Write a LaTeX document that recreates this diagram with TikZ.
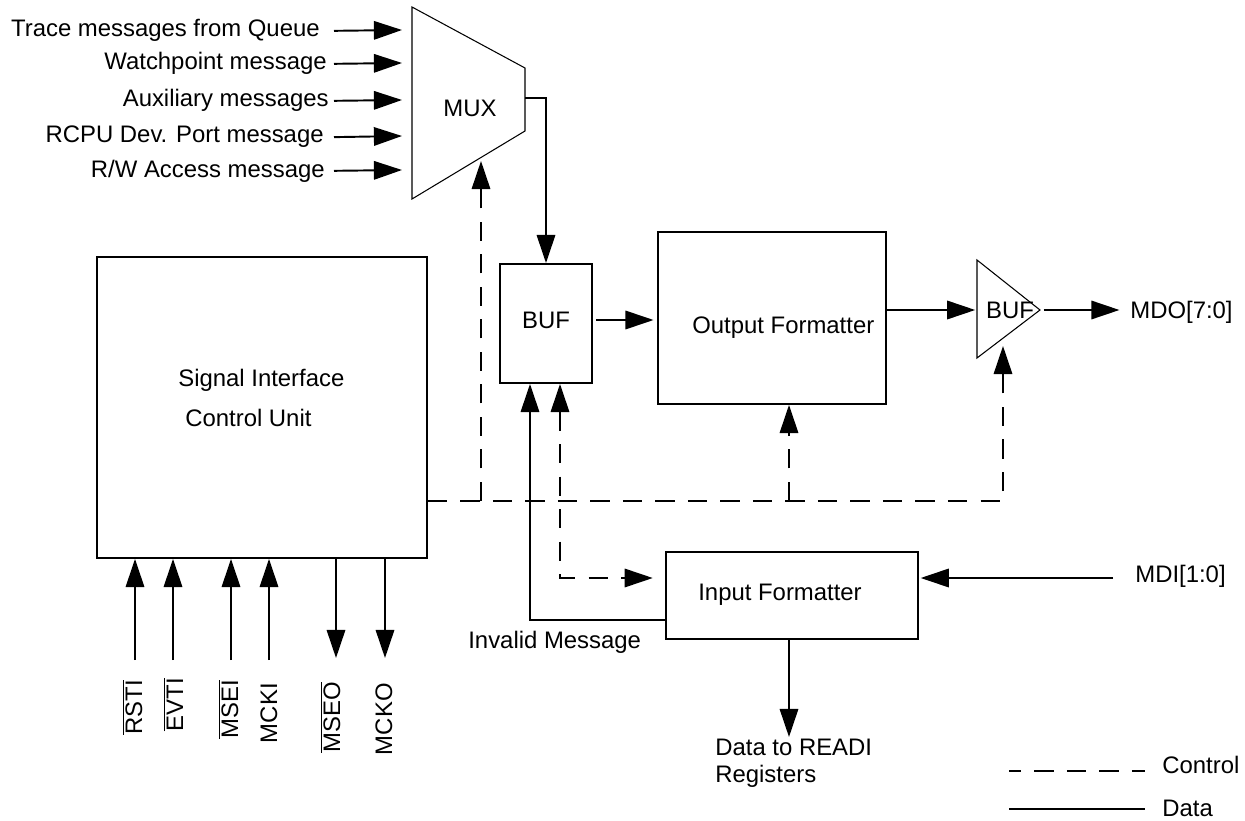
\documentclass[tikz,border=0pt]{standalone}
\usepackage{fontspec}
\setmainfont{Liberation Sans}
\usetikzlibrary{arrows.meta,positioning,calc}

\tikzset{
  box/.style={draw, line width=1.1pt, inner sep=0pt},
  lbl/.style={inner sep=0pt},
  dat/.style={line width=1.1pt, -{Triangle[length=16pt,width=10.5pt]}},
  ctl/.style={dat, dash pattern=on 11pt off 7.5pt},
  gate/.style={line width=0.6pt, line join=miter},
  pin/.style={lbl, rotate=90, anchor=base east},
}

\begin{document}
\begin{tikzpicture}[x=0.02cm, y=-0.02cm, font=\fontsize{13.6}{15.3}\selectfont]
    \useasboundingbox (0,0) rectangle (1245,821);

    % MUX with its message inputs
    \draw[gate] (412,7) -- (525,68) -- (525,131) -- (412,199) -- cycle;
    \node[lbl, anchor=base] (mux) at (470,117) {MUX};
    \coordinate (muxout) at (525,98);
    \coordinate (muxctl) at (481,161);
    \foreach \nm/\txt/\y/\xe in {trace/Trace messages from Queue/30/320,
        watch/Watchpoint message/63/327, aux/Auxiliary messages/100/329,
        rcpu/RCPU Dev. Port message/136/324, rw/{R/W Access message}/170/325} {
      \node[lbl, anchor=base east] (\nm) at (\xe,\y+7) {\txt};
      \draw[dat] (\nm.east -| 334,0) -- (402,\y);
    }

    % Signal interface control unit
    \node[box, minimum width=6.6cm, minimum height=6.02cm] (sicu) at (262,407.5) {};
    \node[lbl, anchor=base west] (sig1) at (178,386) {Signal Interface};
    \node[lbl, anchor=base west] (sig2) at (185,426) {Control Unit};

    % pins below the control unit
    \node[pin] (rsti) at (142,680) {$\overline{\mbox{RSTI}}$};
    \node[pin] (evti) at (183,678) {$\overline{\mbox{EVTI}}$};
    \node[pin] (msei) at (238,680) {$\overline{\mbox{MSEI}}$};
    \node[pin] (mcki) at (277,683) {MCKI};
    \node[pin] (mseo) at (340,682) {$\overline{\mbox{MSEO}}$};
    \node[pin] (mcko) at (392,683) {MCKO};
    \foreach \x in {135,173,231,269}
      \draw[dat] (\x,660) -- (sicu.south -| \x,0);
    \foreach \x in {336,385}
      \draw[dat] (sicu.south -| \x,0) -- (\x,658);

    % buffer, output formatter and output driver
    \node[box, minimum width=1.84cm, minimum height=2.38cm] (buf) at (546,323.5) {};
    \node[lbl, anchor=base] (buftxt) at (546,328) {BUF};
    \node[box, minimum width=4.56cm, minimum height=3.44cm] (outf) at (772,318) {};
    \node[lbl, anchor=base west] (outftxt) at (692,333) {Output Formatter};
    \draw[gate] (977,260) -- (1040,310) -- (977,358) -- cycle;
    \node[lbl, anchor=base] (tri) at (1010,318) {BUF};
    \coordinate (triin) at (977,310);
    \coordinate (triout) at (1040,310);
    \coordinate (tribot) at (1003,346);
    \node[lbl, anchor=base west] (mdo) at (1130,318) {MDO[7:0]};

    \draw[dat] (muxout) -| (buf.north);
    \draw[dat, shorten <=2pt, shorten >=2pt] (buf.east |- 0,320) -- (outf.west |- 0,320);
    \draw[dat, shorten >=1pt] (outf.east |- triin) -- (triin);
    \draw[dat, shorten <=2pt, shorten >=6pt] (triout) -- (mdo.west |- triout);

    % input formatter
    \node[box, minimum width=5.04cm, minimum height=1.74cm] (inf) at (792,595.5) {};
    \node[lbl, anchor=base west] (inftxt) at (698,600) {Input Formatter};
    \node[lbl, anchor=base west] (mdi) at (1135,582) {MDI[1:0]};
    \node[lbl, anchor=base west] (inval) at (468,648) {Invalid Message};
    \node[lbl, anchor=base west, align=left] (readi) at (715,782) {Data to READI\\Registers};

    \draw[dat, shorten >=1pt] (1113,578) -- (inf.east |- 0,578);
    \draw[dat] (inf.south -| 789,0) -- (789,737);
    \draw[dat] (inf.west |- 0,620) -| (buf.south -| 530,0);

    % control lines
    \draw[ctl] (sicu.east |- 0,501) -| (tribot);
    \draw[ctl] (481,501) -- (muxctl);
    \draw[ctl] (789,501) -- (outf.south -| 789,0);
    \draw[ctl, {Triangle[length=16pt,width=10.5pt]}-{Triangle[length=16pt,width=10.5pt]}, shorten >=7pt]
      (buf.south -| 560,0) |- (inf.west |- 0,578);

    % legend
    \draw[line width=1.1pt, dash pattern=on 11pt off 7.5pt, dash phase=4pt] (1009,771) -- (1145,771);
    \node[lbl, anchor=base west] (lgctl) at (1162,773) {Control};
    \draw[line width=1.1pt] (1009,809) -- (1145,809);
    \node[lbl, anchor=base west] (lgdat) at (1162,816) {Data};
\end{tikzpicture}
\end{document}
